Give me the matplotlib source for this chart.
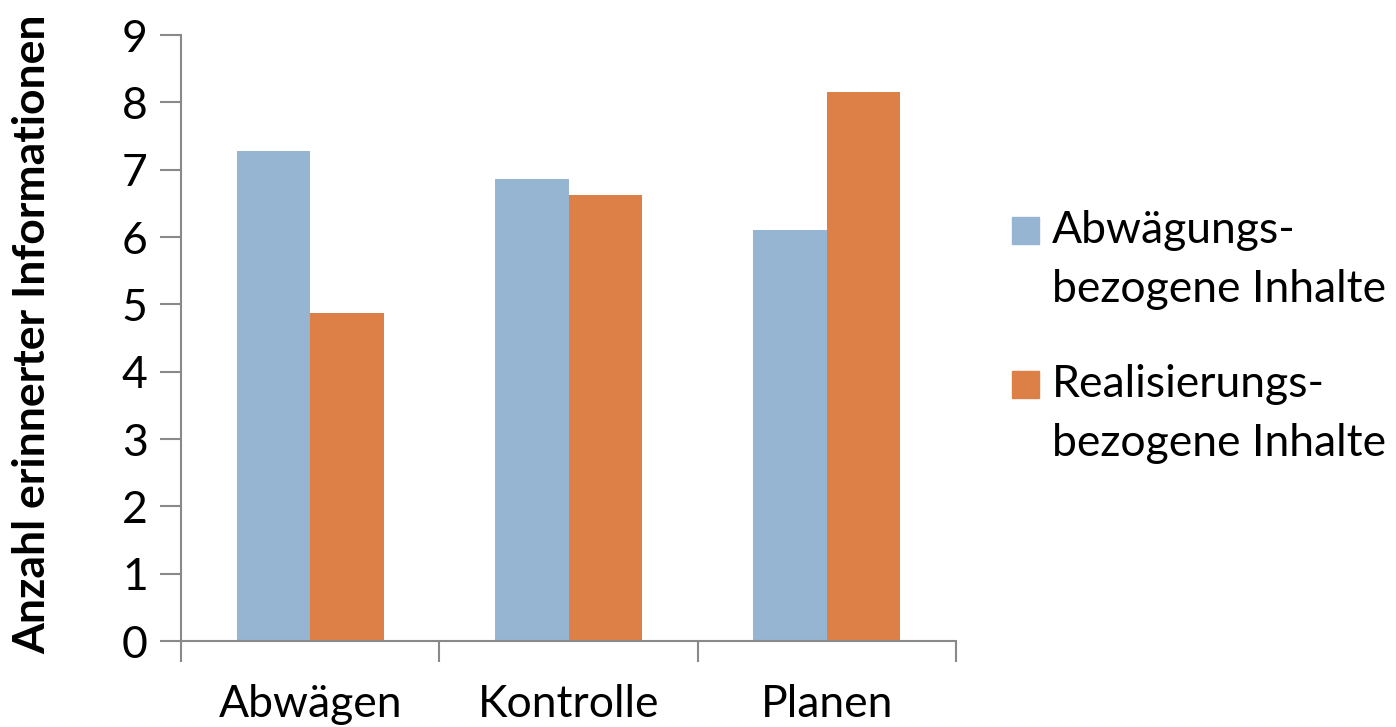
import numpy as np
import matplotlib.pyplot as plt
from matplotlib.patches import Rectangle

plt.rcParams['font.family'] = ['Lato', 'DejaVu Sans']

categories = ['Abwägen', 'Kontrolle', 'Planen']
abwaegung = [7.28, 6.86, 6.10]
realisierung = [4.87, 6.62, 8.16]
series_labels = ['Abwägungs-\nbezogene Inhalte', 'Realisierungs-\nbezogene Inhalte']

blue = '#95b5d3'
orange = '#dd8047'
grey = '#898989'

W, H = 1396, 727
fig = plt.figure(figsize=(W / 100, H / 100), dpi=100)
ax = fig.add_axes([181 / W, 86 / H, 775 / W, 606 / H])

x = np.arange(len(categories))
w = 0.284
ax.bar(x - w / 2, abwaegung, width=w, color=blue)
ax.bar(x + w / 2, realisierung, width=w, color=orange)

ax.set_xlim(-0.5, 2.5)
ax.set_ylim(0, 9)
ax.set_yticks(range(10))
ax.set_xticks(x)
ax.set_xticklabels(categories)
# category separators as outward ticks on the x axis
ax.set_xticks(np.arange(-0.5, 3.0, 1.0), minor=True)
ax.tick_params(axis='x', which='major', length=0, pad=31, labelsize=32)
ax.tick_params(axis='x', which='minor', length=15, width=1.5, color=grey)
ax.tick_params(axis='y', length=15, width=1.5, color=grey, labelsize=32, pad=9)

for side in ['top', 'right']:
    ax.spines[side].set_visible(False)
for side in ['left', 'bottom']:
    ax.spines[side].set_color(grey)
    ax.spines[side].set_linewidth(1.5)

ax.set_ylabel('Anzahl erinnerter Informationen', fontsize=32, fontweight='bold')
ax.yaxis.set_label_coords((52 - 181) / 775, 0.507)

# legend: square swatch next to the first line of each two-line label
for i, (label, color) in enumerate(zip(series_labels, [blue, orange])):
    top = 217 + i * 154
    fig.patches.append(Rectangle((1012 / W, 1 - (top + 27) / H), 27 / W, 27 / H,
                                 transform=fig.transFigure, color=color))
    first, second = label.split('\n')
    fig.text(1052 / W, 1 - (top + 26) / H, first, fontsize=32, va='baseline')
    fig.text(1052 / W, 1 - (top + 85) / H, second, fontsize=32, va='baseline')

fig.savefig('out.png')
